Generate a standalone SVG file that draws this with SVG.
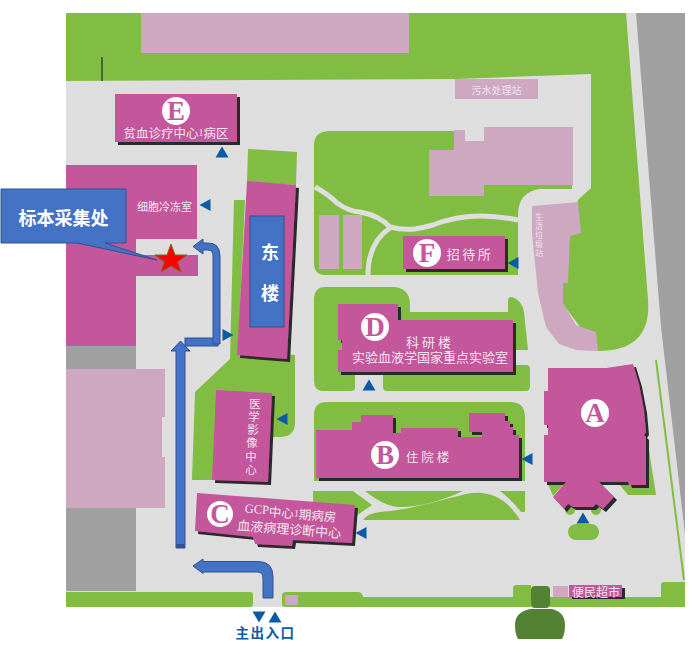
<svg xmlns="http://www.w3.org/2000/svg" width="692" height="654" viewBox="0 0 692 654">
<style>
.g{fill:#80bd42}.p{fill:#cda8c0}.m{fill:#c4579b;filter:url(#sh)}.mf{fill:#c4579b}.gy{fill:#a0a0a0}
.w{font-family:"Noto Sans CJK SC","Liberation Sans",sans-serif;fill:#f3e4ee;text-anchor:middle;dominant-baseline:central}
.l{font-family:"Liberation Serif",serif;font-weight:bold;fill:#c4579b;text-anchor:middle;dominant-baseline:central;font-size:27px}
.c{fill:#fff}.t{fill:#0b5aa8}
.a{fill:#4472c4;stroke:#2f528f;stroke-width:1}
.r{fill:none;stroke:#dedede;stroke-width:5}
</style>
<defs>
<filter id="sh" x="-10%" y="-10%" width="125%" height="125%"><feDropShadow dx="3" dy="3" stdDeviation="0.6" flood-color="#2b2b2b"/></filter>
<polygon id="tl" points="-5.5,0 5.5,-6 5.5,6"/>
<polygon id="tu" points="0,-5.5 6.5,5.5 -6.5,5.5"/>
</defs>
<g id="site">
<rect x="66" y="13" width="619" height="594" fill="#dedede"/>
<polygon class="gy" points="636,13 685,13 685,534 661,327"/>
<path class="g" d="M66,13H626L648,300Q652,351 598,351L560,300L570,236L578,200L591,188V74L456,79L66,81Z"/>
<rect class="p" x="141" y="13" width="268" height="40"/>
<line x1="102" y1="57" x2="102" y2="81" stroke="#111" stroke-width="1"/>
<path class="g" d="M248,149L297,152L296,185L247,182Z"/>
<path class="g" d="M234,200H245L238,350L295,355V422Q295,437 280,437H268V480H192L195,392L230,359Z"/>
<path class="g" d="M330,131H572V189H540Q518,192 518,215V275H325Q314,275 314,263V145Q314,131 330,131Z"/>
<path class="r" d="M315,187Q328,194 337,203Q350,212 360,212Q378,215 390,227"/>
<path class="r" d="M390,227C410,232 420,228 433,225C460,214 490,214 518,220"/>
<path class="r" d="M390,228C375,238 368,255 368,275"/>
<path class="g" d="M325,287H392Q410,287 410,305V312H508V300Q508,297 512,297Q522,300 524,312L528,350H510V365H526Q530,365 530,369V386Q530,391 526,391H387Q383,391 383,387V372H355V387Q355,391 351,391H322Q314,391 314,380V300Q314,287 325,287Z"/>
<path class="g" d="M327,402H510Q525,402 525,417V481H314V415Q314,402 327,402Z"/>
<path class="g" d="M313,491H353L372,505L350,520H313Z"/>
<path class="g" d="M365,491H463Q428,507 400,507Q385,507 365,491Z"/>
<path class="g" d="M363,520Q368,513 380,512C410,510 440,500 466,494Q500,487 520,520Z"/>
<path class="g" d="M500,491H525V512H521Q512,500 500,491Z"/>
<polygon class="g" points="647,437 656,495 628,495 620,485"/>
<polygon class="g" points="548,484 553,496 564,484"/>
<circle class="g" cx="570" cy="510" r="5"/><circle class="g" cx="596" cy="510" r="5"/>
<rect class="g" x="568" y="524" width="31" height="16" rx="8"/>
<line x1="656" y1="360" x2="684" y2="580" stroke="#80bd42" stroke-width="2"/>
<path class="g" d="M66,592H250Q253,592 253,595V604Q253,607 250,607H66Z"/>
<path class="g" d="M286,592H358Q362,592 363,597H513V588Q513,585 516,585H531V607H286Q282,607 282,604V596Q282,592 286,592Z"/>
<path class="g" d="M550,597H661V585Q661,582 664,582H685V607H550Z"/>
<rect x="531" y="586" width="19" height="22" rx="4" fill="#548235"/>
<path d="M530,609H552Q565,612 565,625Q565,634 562,639H518Q515,634 515,625Q515,612 530,609Z" fill="#548235"/>
<rect class="p" x="285" y="595" width="13" height="10"/>
<rect class="gy" x="66" y="346" width="70" height="245"/>
<polygon class="p" points="66,369 165,369 165,417 162,417 162,457 165,457 165,508 66,508"/>
<rect class="p" x="455" y="79" width="83" height="20"/>
<text class="w" x="496.500" y="89" font-size="10">污水处理站</text>
<polygon class="p" points="454,130 465,130 465,141 484,141 484,127 573,127 573,185 484,185 484,196 429,196 429,150 454,150"/>
<rect x="465" y="126" width="19" height="15" fill="#dedede"/>
<rect class="p" x="319" y="215" width="20" height="54"/>
<rect class="p" x="343" y="215" width="19" height="54"/>
<polygon class="p" points="532,206 578,202 581,233 570,236 568,283 563,283 563,303 576,325 596,332 598,351 576,350 559,344 546,327 538,293 532,233"/>
<text class="w" y="216" font-size="8"><tspan x="539">生</tspan><tspan x="539" dy="9">活</tspan><tspan x="539" dy="9">垃</tspan><tspan x="539" dy="9">圾</tspan><tspan x="539" dy="9">站</tspan></text>
</g>
<g id="node-west">
<polygon class="mf" points="66,165 197,165 197,239 136,239 136,255 198,255 198,276 136,276 136,346 66,346"/>
<text class="w" x="164.500" y="206" font-size="11">细胞冷冻室</text>
</g>
<g id="node-E">
<rect class="m" x="115" y="94" width="122" height="48"/>
<circle class="c" cx="176" cy="111" r="14"/><text class="l" x="176" y="111">E</text>
<text class="w" x="176" y="132" font-size="12.500">贫血诊疗中心<tspan font-family="Liberation Serif" font-size="10">1</tspan>病区</text>
</g>
<g id="node-east">
<polygon class="m" points="247,181 296,185 287,359 237,355"/>
<rect class="a" x="250" y="216" width="34" height="111"/>
<text class="w" x="270" y="251" font-size="18" font-weight="bold" style="fill:#fff">东</text>
<text class="w" x="270" y="292" font-size="18" font-weight="bold" style="fill:#fff">楼</text>
</g>
<g id="node-imaging">
<polygon class="m" points="216,390 272,393 268,482 212,480"/>
<text class="w" y="403" font-size="11.500"><tspan x="255">医</tspan><tspan x="254" dy="13">学</tspan><tspan x="253" dy="13">影</tspan><tspan x="252" dy="13">像</tspan><tspan x="251" dy="14">中</tspan><tspan x="251" dy="13">心</tspan></text>
</g>
<g id="node-C">
<polygon class="m" points="197,493 355,505 352,543 293,540 292,546 255,544 253,537 195,531"/>
<circle class="c" cx="220" cy="514" r="13"/><text class="l" x="220" y="514">C</text>
<text class="w" transform="rotate(4.500 290 520)" y="512" font-size="12.500"><tspan x="290"><tspan font-family="Liberation Serif">GCP</tspan>中心<tspan font-family="Liberation Serif" font-size="10">1</tspan>期病房</tspan><tspan x="290" dy="16" font-size="13">血液病理诊断中心</tspan></text>
</g>
<g id="node-F">
<rect class="m" x="403" y="236" width="102" height="33"/>
<circle class="c" cx="427" cy="253" r="14"/><text class="l" x="427" y="253">F</text>
<text class="w" x="470" y="253" font-size="13" letter-spacing="2.500">招待所</text>
</g>
<g id="node-D">
<polygon class="m" points="338,304 398,304 398,320 513,320 513,372 338,372 338,350 342,350 342,340 338,340"/>
<circle class="c" cx="375" cy="327" r="14"/><text class="l" x="375" y="327">D</text>
<text class="w" y="341" font-size="13"><tspan x="430" letter-spacing="3">科研楼</tspan><tspan x="430" dy="15">实验血液学国家重点实验室</tspan></text>
</g>
<g id="node-B">
<polygon class="m" points="316,430 352,430 352,422 361,422 361,415 393,415 393,433 401,433 401,428 458,428 458,437 482,437 482,432 469,432 469,413 505,413 505,421 510,421 510,427 513,427 513,435 519,435 519,478 316,478"/>
<circle class="c" cx="385" cy="455" r="14"/><text class="l" x="385" y="455">B</text>
<text class="w" x="429" y="456" font-size="12.500" letter-spacing="3">住院楼</text>
</g>
<g id="node-A">
<polygon class="m" points="548,368 606,368 633,364 639,384 644,410 646,432 644,435 646,437 646,485 629,485 628,482 599,482 614,497 603,509 596,504 593,507 573,507 568,504 564,509 553,497 566,482 544,482 544,435 548,435 548,425 544,425 544,391 548,391"/>
<circle class="c" cx="595" cy="413" r="14"/><text class="l" x="595" y="413">A</text>
</g>
<g id="node-market">
<rect class="p" x="553" y="586" width="15" height="11"/>
<rect class="m" x="569" y="585" width="53" height="12"/>
<text class="w" x="596" y="591" font-size="12">便民超市</text>
</g>
<g id="node-entrance">
<use class="t" href="#tu" x="275" y="617"/>
<use class="t" href="#tu" transform="translate(259 617) scale(1 -1)"/>
<text x="265.500" y="632" font-family="Noto Sans CJK SC,sans-serif" font-size="13.500" font-weight="bold" fill="#0b5aa8" text-anchor="middle" dominant-baseline="central" letter-spacing="1.500">主出入口</text>
</g>
<g id="markers">
<use class="t" href="#tu" x="222" y="152"/>
<use class="t" href="#tl" x="205" y="205"/>
<use class="t" href="#tl" x="513" y="263"/>
<use class="t" href="#tu" x="369" y="385"/>
<use class="t" href="#tl" x="527" y="459"/>
<use class="t" href="#tu" x="583" y="518"/>
<use class="t" href="#tl" x="361" y="533"/>
<use class="t" href="#tl" x="282" y="419"/>
<use class="t" href="#tl" transform="translate(228 335) scale(-1 1)"/>
</g>
<g id="connectors">
<path class="a" d="M176,548V351H171L180.500,341L190,351H185V548Z"/>
<rect x="176.500" y="544" width="8" height="4" fill="#2f528f"/>
<rect class="a" x="185" y="338" width="33" height="8"/>
<path class="a" d="M213,344V256Q213,250 208,250H203V254L193,246.500L203,239V243H208Q220,243 220,256V344Z"/>
<path class="a" d="M263,598V578Q263,572 257,572H203V573.500L193,566L203,559V561.500H258Q273,561.500 273,577V598Z"/>
</g>
<g id="node-label">
<path class="a" d="M1,189H126V243H105L157,260L77,243H1Z"/>
<text x="63.500" y="217" font-family="Noto Sans CJK SC,sans-serif" font-size="18" font-weight="bold" fill="#fff" text-anchor="middle" dominant-baseline="central">标本采集处</text>
<polygon points="171,244 175,255 187,255 177.500,262 181,272 171,266 161,272 164.500,262 155,255 167,255" fill="#f00" stroke="#7a6a20" stroke-width="1"/>
</g>
</svg>
